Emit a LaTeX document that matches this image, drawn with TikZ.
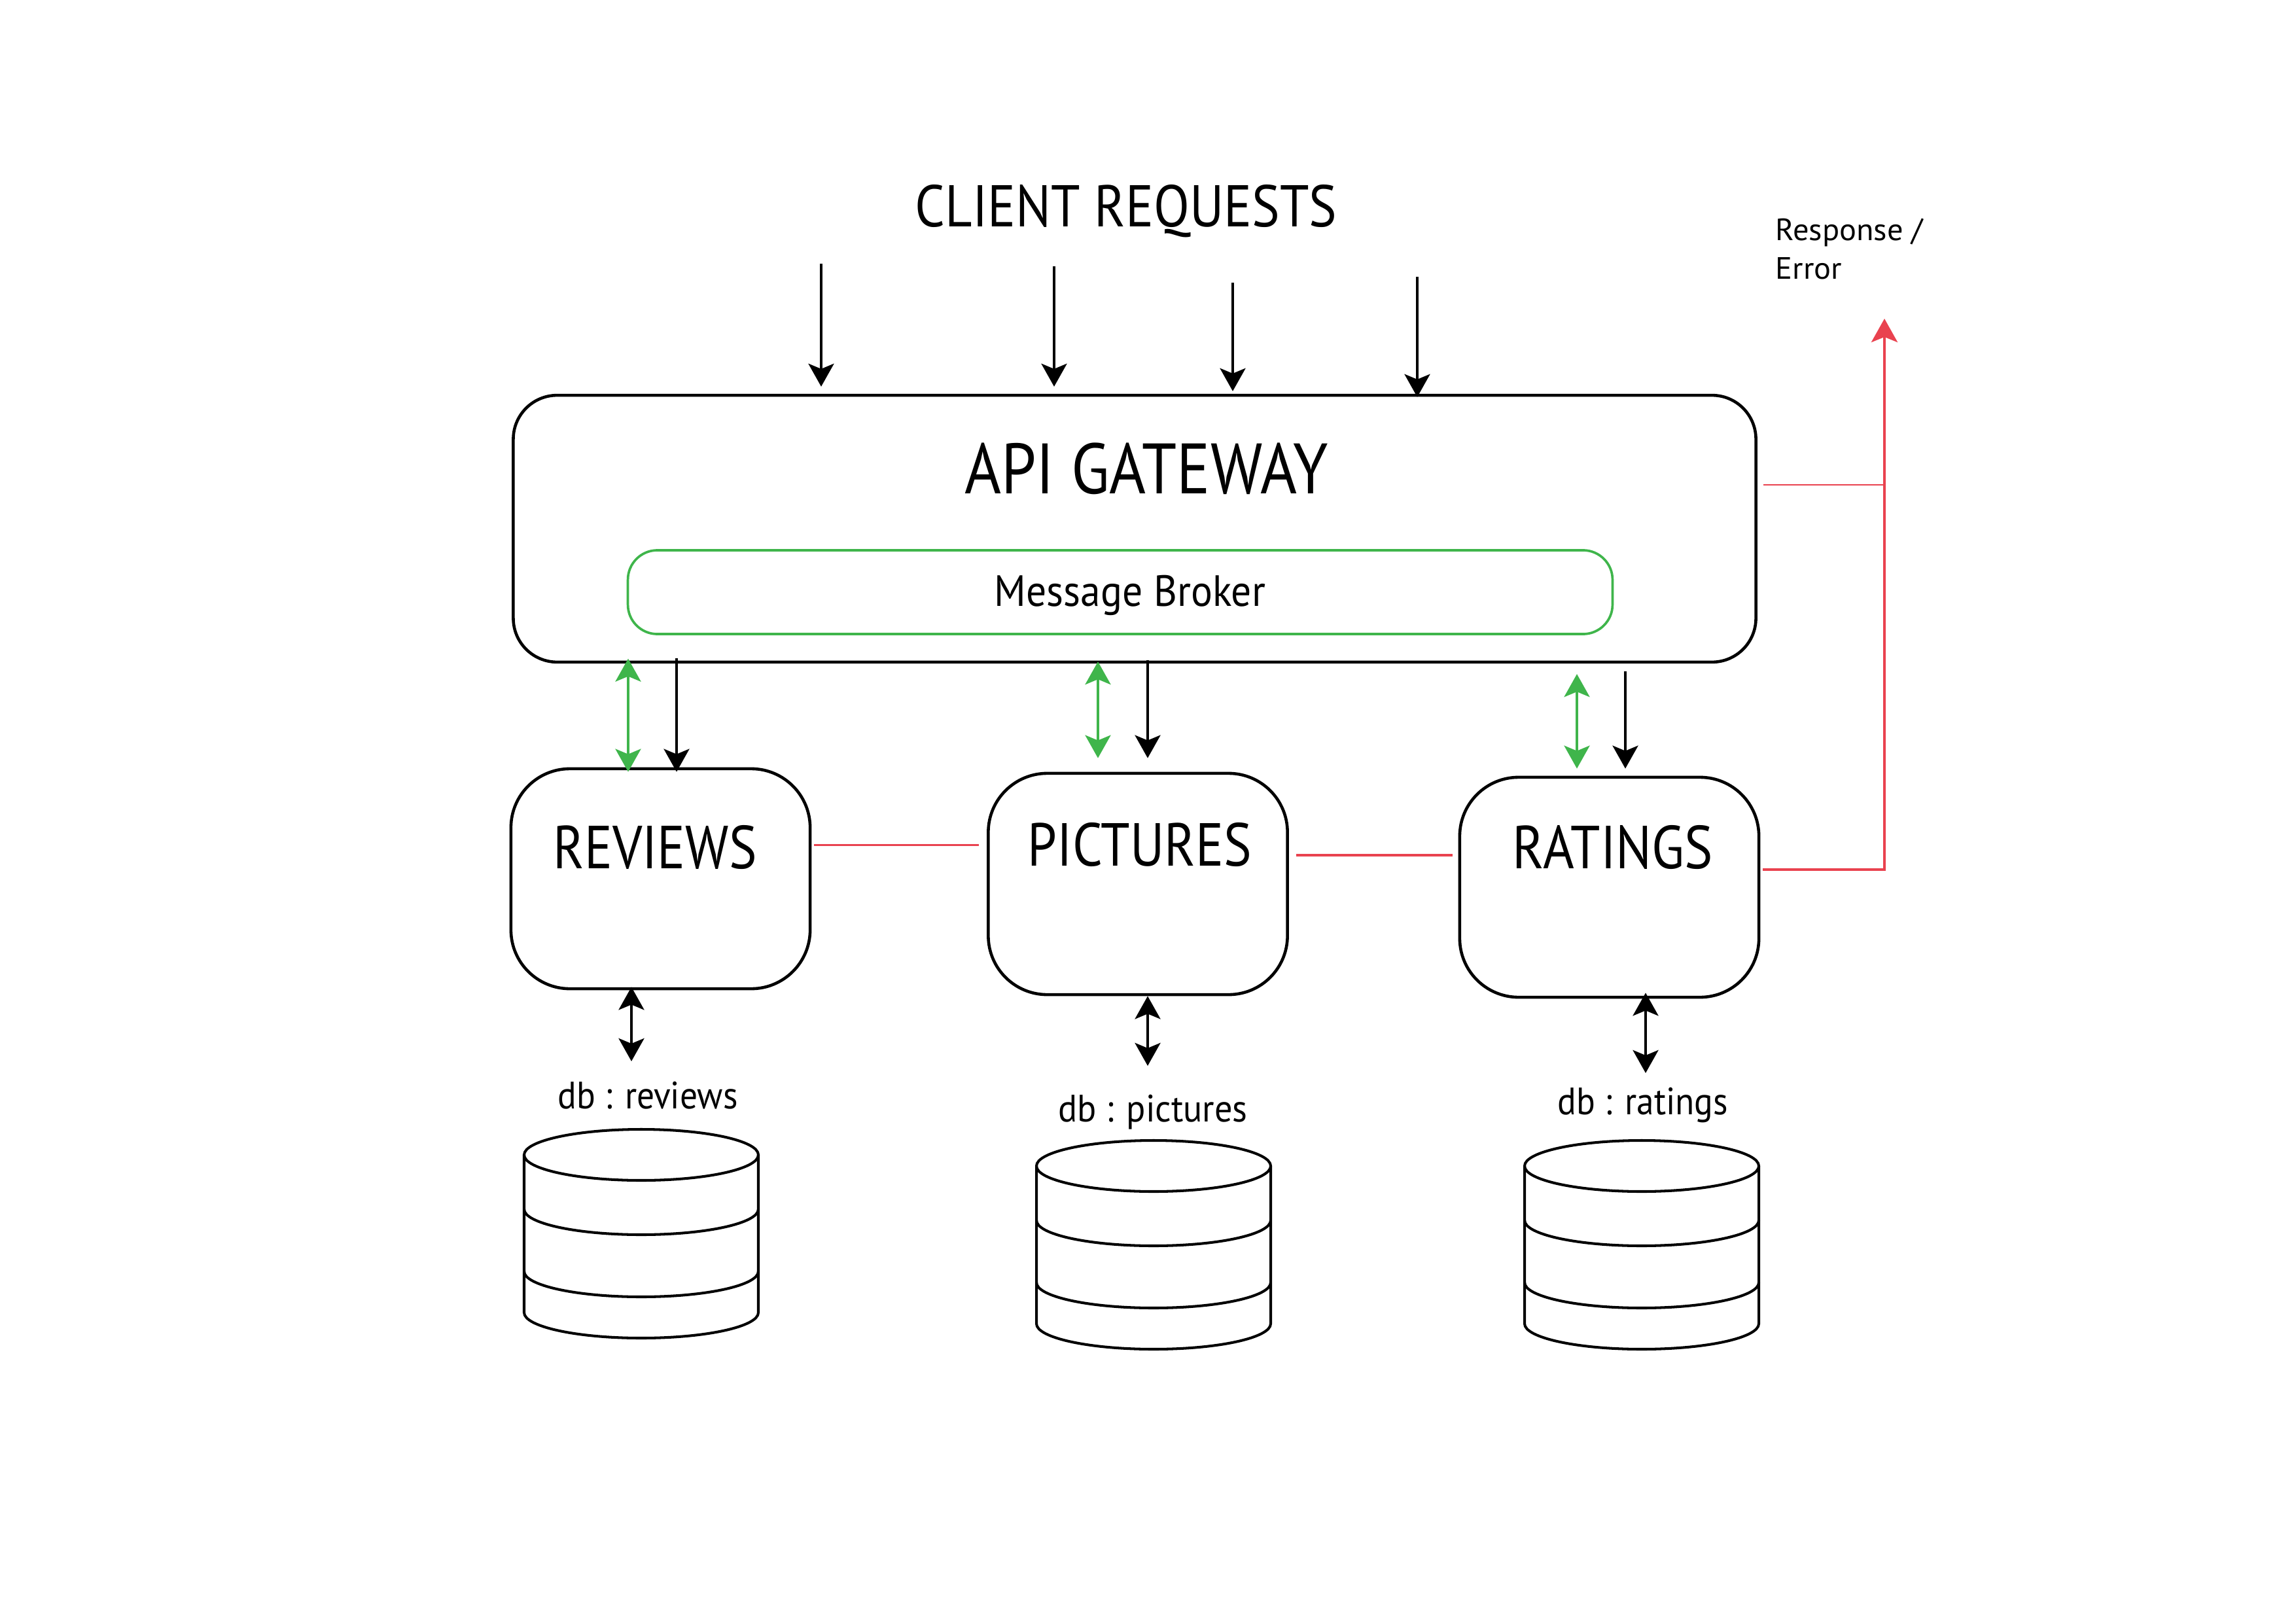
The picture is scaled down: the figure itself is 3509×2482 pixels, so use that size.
\documentclass[tikz,border=0pt]{standalone}
\usepackage{fontspec}
\setmainfont{PT Sans}
\usepackage{graphicx}
\usetikzlibrary{arrows.meta,calc}
\definecolor{mbgreen}{RGB}{63,181,75}
\definecolor{errred}{RGB}{233,66,79}
\newsavebox\fitbox
\newcommand\fitw[2]{\sbox\fitbox{#2}\pgfmathsetmacro\fitsx{#1/\the\wd\fitbox}\scalebox{\fitsx}[1]{\usebox\fitbox}}
\tikzset{hd/.tip={Stealth[length=0.35cm,width=0.39cm,inset=0.08cm]},
  rhd/.tip={Stealth[length=0.36cm,width=0.40cm,inset=0.08cm]}}
\begin{document}
\begin{tikzpicture}[x=0.01cm,y=-0.01cm,
  arr/.style={line width=1.14pt,-{hd}},
  darr/.style={line width=1.14pt,{hd}-{hd}},
  gwbox/.style={draw,line width=1.3pt,rounded corners=0.67cm,minimum width=18.98cm,minimum height=4.075cm,inner sep=0pt},
  mbbox/.style={draw=mbgreen,line width=1.05pt,rounded corners=0.45cm,minimum width=15.04cm,minimum height=1.28cm,inner sep=0pt},
  svcbox/.style={draw,line width=1.3pt,rounded corners=0.9cm,minimum width=4.57cm,minimum height=3.36cm,inner sep=0pt},
  txt/.style={inner sep=0pt,anchor=base},
  redthin/.style={draw=errred,line width=0.85pt},
  redthick/.style={draw=errred,line width=1.15pt},
  dbline/.style={line width=1.15pt},
  dbcyl/.pic={
    \draw[dbline] (0,0) ellipse [x radius=179, y radius=39];
    \draw[dbline] (-179,0) -- (-179,241) arc[start angle=180,end angle=0,x radius=179,y radius=39] -- (179,0);
    \draw[dbline] (-179,83) arc[start angle=180,end angle=0,x radius=179,y radius=39];
    \draw[dbline] (-179,178) arc[start angle=180,end angle=0,x radius=179,y radius=39];
  }
]
\useasboundingbox (0,0) rectangle (3509,2482);

% titles
\node[txt] (client) at (1721,347) {\fitw{6.44cm}{\fontsize{25.6}{30}\selectfont CLIENT REQUESTS}};

% gateway
\node[gwbox] (gw) at (1734,808) {};
\node[txt] (gwl) at (1752,754) {\fitw{5.55cm}{\fontsize{31}{36}\selectfont API GATEWAY}};
\node[mbbox] (mb) at (1712,905) {};
\node[txt] (mbl) at (1727,926) {\fitw{4.14cm}{\fontsize{19}{23}\selectfont Message Broker}};

% services
\node[svcbox] (rev) at (1009.5,1343) {};
\node[txt] (revl) at (1001,1327) {\fitw{3.11cm}{\fontsize{26.4}{30}\selectfont REVIEWS}};
\node[svcbox,minimum height=3.38cm] (pic) at (1739,1351) {};
\node[txt] (picl) at (1742,1323) {\fitw{3.42cm}{\fontsize{26.4}{30}\selectfont PICTURES}};
\node[svcbox] (rat) at (2459.5,1356) {};
\node[txt] (ratl) at (2465,1327) {\fitw{3.06cm}{\fontsize{26.4}{30}\selectfont RATINGS}};

% db labels
\node[txt] (dbrl) at (990,1694) {\fitw{2.75cm}{\fontsize{16.6}{20}\selectfont db : reviews}};
\node[txt] (dbpl) at (1762,1714) {\fitw{2.89cm}{\fontsize{16.6}{20}\selectfont db : pictures}};
\node[txt] (dbtl) at (2511,1703) {\fitw{2.60cm}{\fontsize{16.6}{20}\selectfont db : ratings}};

% response label
\node[inner sep=0pt,anchor=base west] (resp) at (2713,427) {\fitw{2.25cm}{\fontsize{13.4}{17}\selectfont\begin{tabular}[b]{@{}l@{}}Response /\\Error\end{tabular}}};

% databases
\pic at (980,1765) {dbcyl};
\pic at (1763,1782) {dbcyl};
\pic at (2509,1782) {dbcyl};

% client request arrows
\coordinate (c1) at (1255,403);
\coordinate (c2) at (1611,407);
\coordinate (c3) at (1884,432);
\coordinate (c4) at (2166,423);
\draw[arr,shorten >=0.11cm] (c1) -- (c1 |- gw.north);
\draw[arr,shorten >=0.11cm] (c2) -- (c2 |- gw.north);
\draw[arr,shorten >=0.04cm] (c3) -- (c3 |- gw.north);
\draw[arr,shorten >=-0.05cm] (c4) -- (c4 |- gw.north);

% gateway <-> services
\coordinate (g1) at (960,0);
\coordinate (k1) at (1034,0);
\coordinate (g2) at (1678,0);
\coordinate (k2) at (1754,0);
\coordinate (g3) at (2410,0);
\coordinate (k3) at (2484,0);
\draw[darr,mbgreen,shorten <=-0.075cm,shorten >=-0.07cm] (g1 |- gw.south) -- (g1 |- rev.north);
\draw[arr,shorten <=-0.085cm,shorten >=-0.07cm] (k1 |- gw.south) -- (k1 |- rev.north);
\draw[darr,mbgreen,shorten <=-0.03cm,shorten >=0.21cm] (g2 |- gw.south) -- (g2 |- pic.north);
\draw[arr,shorten <=-0.05cm,shorten >=0.21cm] (k2 |- gw.south) -- (k2 |- pic.north);
\draw[darr,mbgreen,shorten <=0.16cm,shorten >=0.11cm] (g3 |- gw.south) -- (g3 |- rat.north);
\draw[arr,shorten <=0.12cm,shorten >=0.11cm] (k3 |- gw.south) -- (k3 |- rat.north);

% services <-> databases
\coordinate (d1) at (965,0);
\coordinate (d2) at (1754,0);
\coordinate (d3) at (2515,0);
\draw[darr,shorten <=-0.05cm,shorten >=0.3cm] (d1 |- rev.south) -- (d1 |- dbrl.north);
\draw[darr,shorten >=0.43cm] (d2 |- pic.south) -- (d2 |- dbpl.north);
\draw[darr,shorten <=-0.09cm,shorten >=0.21cm] (d3 |- rat.south) -- (d3 |- dbtl.north);

% red response lines
\coordinate (rv) at (2880,487);
\coordinate (y1) at (0,1291);
\coordinate (y2) at (0,1307);
\coordinate (y3) at (0,741);
\coordinate (y4) at (0,1329);
\draw[redthin,shorten <=0.04cm,shorten >=0.12cm] (rev.east |- y1) -- (pic.west |- y1);
\draw[redthick,shorten <=0.11cm,shorten >=0.09cm] (pic.east |- y2) -- (rat.west |- y2);
\draw[redthin,shorten <=0.09cm] (gw.east |- y3) -- (rv |- y3);
\draw[redthick,shorten <=0.04cm,-{rhd}] (rat.east |- y4) -- (rv |- y4) -- (rv);
\end{tikzpicture}
\end{document}
